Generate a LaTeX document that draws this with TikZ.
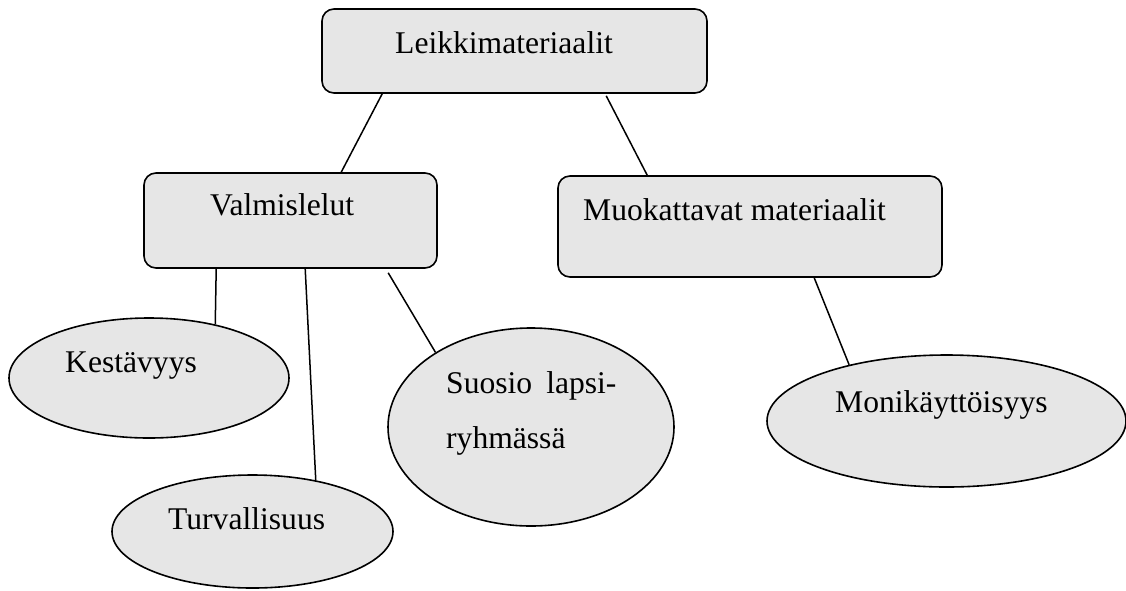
\documentclass[tikz,border=0pt]{standalone}
\usepackage{fontspec}
\setmainfont{Liberation Serif}
\usetikzlibrary{shapes.geometric}
\definecolor{boxfill}{RGB}{230,230,230}
\tikzset{
  box/.style={draw=black, fill=boxfill, line width=1.6pt, rounded corners=12pt, rectangle, inner sep=0pt},
  oval/.style={draw=black, fill=boxfill, line width=1.6pt, ellipse, inner sep=0pt},
  lbl/.style={anchor=base west, inner sep=0pt, font=\fontsize{31.6}{55}\selectfont},
  conn/.style={draw=black, line width=1.5pt}
}
\begin{document}
\begin{tikzpicture}[x=1pt, y=-1pt]
\useasboundingbox (0,0) rectangle (1126,590);
% boxes
\node[box, minimum width=385pt, minimum height=84pt] (lk) at (514.5,51) {};
\node[box, minimum width=293pt, minimum height=95pt] (vm) at (290.5,220.5) {};
\node[box, minimum width=384pt, minimum height=101pt] (mk) at (750,226.5) {};
% ellipses
\node[oval, minimum width=280pt, minimum height=120pt] (ke) at (149,378) {};
\node[oval, minimum width=281pt, minimum height=113pt] (tu) at (252.5,531.5) {};
\node[oval, minimum width=286pt, minimum height=198pt] (su) at (531,427) {};
\node[oval, minimum width=359pt, minimum height=132pt] (mo) at (946.5,421) {};
% texts
\node[lbl] (lkt) at (395,53) {Leikkimateriaalit};
\node[lbl] (vmt) at (210,215) {Valmislelut};
\node[lbl] (mkt) at (583,220) {Muokattavat materiaalit};
\node[lbl] (ket) at (65,372) {Kestävyys};
\node[lbl] (tut) at (168,529) {Turvallisuus};
\node[lbl] (sut1) at (446,393) {Suosio\hspace{14pt}lapsi-};
\node[lbl] (sut2) at (446,448) {ryhmässä};
\node[lbl] (mot) at (835,412) {Monikäyttöisyys};
% connectors
\draw[conn] ([xshift=61pt]lk.south west) -- ([xshift=198pt]vm.north west);
\draw[conn] ([xshift=285pt,yshift=-2pt]lk.south west) -- ([xshift=90pt]mk.north west);
\draw[conn] ([xshift=73pt]vm.south west) -- (ke.39.3);
\draw[conn] ([xshift=162pt]vm.south west) -- (tu.39.9);
\draw[conn] ([xshift=245pt,yshift=-4pt]vm.south west) -- (su.142.9);
\draw[conn] ([xshift=257pt]mk.south west) -- (mo.150.8);
\end{tikzpicture}
\end{document}
